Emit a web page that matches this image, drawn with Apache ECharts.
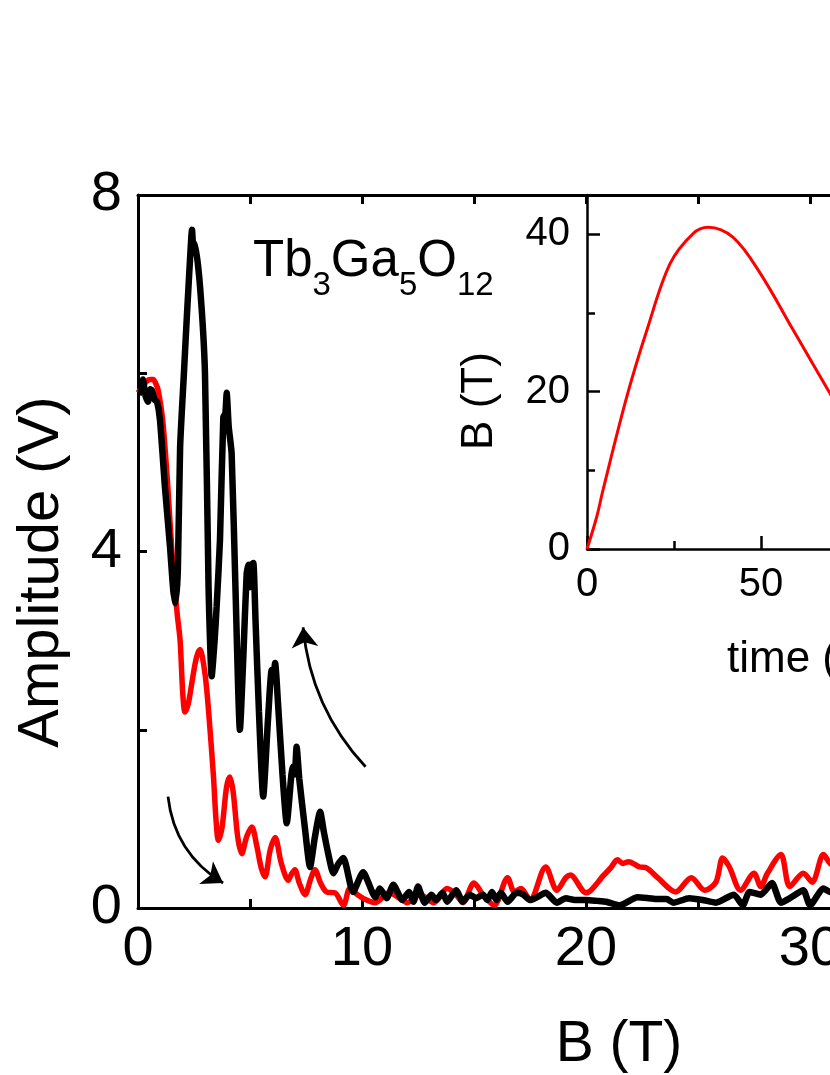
<!DOCTYPE html>
<html>
<head>
<meta charset="utf-8">
<script src="https://cdn.jsdelivr.net/npm/echarts@6/dist/echarts.min.js"></script>
<style>
html,body{margin:0;padding:0;background:#fff;}
#chart{width:830px;height:1075px;}
</style>
</head>
<body>
<div id="chart"></div>
<script>
// Main chart: Amplitude (V) vs B (T)
const redUp = [[0,5.78],[0.2,5.85],[0.39,5.91],[0.55,5.93],[0.68,5.93],[0.8,5.88],[0.9,5.81],[1.1,5.48],[1.33,4.73],[1.56,3.83],[1.75,3.3],[1.88,3.0],[2.0,2.4],[2.1,2.2],[2.25,2.3],[2.4,2.52],[2.6,2.8],[2.77,2.9],[2.92,2.75],[3.07,2.45],[3.36,1.51],[3.48,1.0],[3.59,0.76],[3.75,0.9],[3.95,1.35],[4.1,1.47],[4.25,1.3],[4.45,0.8],[4.63,0.61],[4.85,0.8],[5.08,0.91],[5.3,0.7],[5.5,0.45],[5.67,0.35],[5.9,0.65],[6.12,0.79],[6.4,0.5],[6.71,0.31],[6.85,0.38],[7.0,0.43],[7.2,0.28],[7.46,0.15],[7.7,0.32],[7.9,0.43],[8.15,0.28],[8.42,0.18],[8.8,0.17],[9.17,0.03],[9.46,0.22],[9.8,0.15],[10.2,0.09],[10.6,0.06],[11.2,0.17],[11.8,0.09],[12.0,0.06],[12.6,0.15],[13.2,0.06],[13.8,0.22],[14.2,0.15],[14.5,0.06],[15.0,0.28],[15.4,0.15],[15.9,0.03],[16.5,0.34],[16.8,0.18],[17.1,0.22],[17.5,0.09],[18.2,0.46],[18.7,0.2],[19.1,0.34],[19.3,0.37],[20.0,0.17],[20.8,0.37],[21.1,0.45],[21.4,0.54],[21.65,0.5],[21.9,0.52],[22.4,0.46],[22.7,0.45],[23.2,0.34],[24.0,0.18],[24.7,0.34],[25.3,0.2],[25.8,0.29],[26.1,0.56],[26.4,0.46],[26.9,0.2],[27.5,0.39],[27.8,0.24],[28.1,0.39],[28.7,0.6],[29.1,0.24],[29.7,0.39],[30.1,0.29],[30.6,0.6],[30.9,0.5],[31.5,0.4]];

const blackDown = [[0.12,5.75],[0.22,5.93],[0.33,5.75],[0.45,5.68],[0.55,5.82],[0.62,5.81],[0.75,5.7],[0.85,5.68],[0.98,5.48],[1.2,4.73],[1.43,4.05],[1.58,3.55],[1.68,3.42],[1.78,3.8],[1.88,5.17],[2.05,6.0],[2.19,6.68],[2.35,7.4],[2.41,7.61],[2.48,7.35],[2.54,7.46],[2.77,6.97],[2.99,6.0],[3.15,3.6],[3.29,2.6],[3.42,3.0],[3.51,3.38],[3.66,4.13],[3.81,5.51],[3.9,5.55],[3.96,5.78],[4.05,5.4],[4.18,5.1],[4.35,3.6],[4.55,2.0],[4.7,2.8],[4.85,3.75],[4.93,3.85],[5.0,3.6],[5.1,3.86],[5.15,3.87],[5.25,3.2],[5.4,2.2],[5.59,1.25],[5.8,2.1],[5.97,2.67],[6.05,2.6],[6.12,2.75],[6.25,2.3],[6.45,1.5],[6.64,0.95],[6.85,1.5],[6.93,1.59],[7.0,1.5],[7.08,1.81],[7.2,1.45],[7.45,0.9],[7.68,0.46],[7.9,0.8],[8.13,1.08],[8.3,0.85],[8.5,0.6],[8.72,0.39],[8.95,0.5],[9.17,0.56],[9.6,0.18],[10.05,0.4],[10.6,0.12],[10.8,0.22],[11.1,0.11],[11.4,0.26],[11.8,0.09],[12.1,0.18],[12.3,0.07],[12.5,0.24],[12.8,0.06],[13.1,0.15],[13.3,0.09],[13.6,0.17],[13.8,0.07],[14.2,0.2],[14.5,0.07],[14.8,0.15],[15.1,0.11],[15.4,0.15],[15.6,0.09],[15.8,0.18],[16.0,0.09],[16.2,0.17],[16.5,0.07],[16.9,0.17],[17.2,0.15],[17.5,0.09],[17.8,0.12],[18.2,0.17],[18.7,0.06],[19.1,0.11],[19.5,0.09],[20.0,0.09],[20.5,0.08],[20.9,0.07],[21.5,0.03],[22.3,0.12],[22.8,0.11],[23.2,0.1],[23.6,0.1],[23.9,0.06],[24.6,0.11],[25.2,0.09],[25.8,0.06],[26.6,0.15],[27.0,0.03],[27.3,0.18],[27.8,0.15],[28.3,0.28],[28.7,0.06],[29.1,0.11],[29.7,0.2],[30.0,0.03],[30.6,0.22],[30.9,0.18],[31.5,0.2]];

// Inset: B (T) vs time (ms)
const insetTime = [0, 2.8, 4.6, 11.4, 17.2, 23.9, 30.5, 34.8, 42, 49.7, 59.3, 69.8, 75];
const insetB    = [0, 4.1, 7.5, 19.3, 27.8, 36.3, 40.1, 40.9, 39.6, 35.1, 27.8, 19.8, 16];

// Sweep-direction arrows (data coordinates of tail and head)
const arrowUp   = [[10.16,1.585],[7.37,3.15]];
const arrowDown = [[1.34,1.25],[3.8,0.28]];

const insetYLabels = [0,20,40];
const insetYMinor = [10,30];

const FONT = 'Liberation Sans, Arial, Helvetica, sans-serif';
const chart = echarts.init(document.getElementById('chart'), null, {renderer:'canvas'});

const insetData = insetTime.map((t,i)=>[t, insetB[i]]);

const option = {
  backgroundColor: '#fff',
  animation: false,
  textStyle: {fontFamily: FONT},
  grid: [
    {left:138, top:195, width:896, height:713, containLabel:false, outerBoundsMode:'none'},
    {left:587, top:195, width:522, height:354, containLabel:false, outerBoundsMode:'none'}
  ],
  xAxis: [
    {gridIndex:0, type:'value', position:'bottom', min:0, max:40, interval:10,
     axisLine:{lineStyle:{color:'#000', width:3}},
     axisTick:{inside:true, length:9, lineStyle:{color:'#000', width:3}},
     minorTick:{show:true, splitNumber:2, length:9, lineStyle:{color:'#000', width:3}},
     axisLabel:{fontSize:56, color:'#000', margin:14, fontFamily:FONT, hideOverlap:false},
     splitLine:{show:false}},
    {gridIndex:0, type:'value', position:'top', min:0, max:40, interval:10,
     axisLine:{lineStyle:{color:'#000', width:3}},
     axisTick:{inside:true, length:9, lineStyle:{color:'#000', width:3}},
     minorTick:{show:true, splitNumber:2, length:9, lineStyle:{color:'#000', width:3}},
     axisLabel:{show:false}, splitLine:{show:false}},
    {gridIndex:1, type:'value', position:'bottom', min:0, max:150, interval:50,
     axisLine:{lineStyle:{color:'#000', width:2.5}},
     axisTick:{inside:true, length:13, lineStyle:{color:'#000', width:2.5}},
     minorTick:{show:true, splitNumber:2, length:8, lineStyle:{color:'#000', width:2.5}},
     axisLabel:{fontSize:40, color:'#000', margin:16, fontFamily:FONT, hideOverlap:false},
     splitLine:{show:false}}
  ],
  yAxis: [
    {gridIndex:0, type:'value', position:'left', min:0, max:8, interval:4,
     axisLine:{lineStyle:{color:'#000', width:3}},
     axisTick:{inside:true, length:9, lineStyle:{color:'#000', width:3}},
     minorTick:{show:true, splitNumber:2, length:9, lineStyle:{color:'#000', width:3}},
     axisLabel:{fontSize:56, color:'#000', margin:16, fontFamily:FONT},
     splitLine:{show:false}},
    {gridIndex:1, type:'value', position:'left', min:0, max:45, interval:20,
     axisLine:{lineStyle:{color:'#000', width:2.5}},
     axisTick:{inside:true, length:13, customValues:insetYLabels, lineStyle:{color:'#000', width:2.5}},
     axisLabel:{fontSize:40, color:'#000', margin:17, customValues:insetYLabels, fontFamily:FONT},
     splitLine:{show:false}},
    {gridIndex:1, type:'value', position:'left', offset:0, min:0, max:45, interval:10,
     axisLine:{show:false},
     axisTick:{inside:true, length:8, customValues:insetYMinor, lineStyle:{color:'#000', width:2.5}},
     axisLabel:{show:false}, splitLine:{show:false}}
  ],
  series: [
    {type:'line', xAxisIndex:0, yAxisIndex:0, data:redUp, smooth:0.3, symbol:'none',
     lineStyle:{color:'#ff0000', width:5.5}, z:3},
    {type:'line', xAxisIndex:0, yAxisIndex:0, data:blackDown, smooth:0.2, symbol:'none',
     lineStyle:{color:'#000', width:6.5}, z:4},
    {type:'line', xAxisIndex:2, yAxisIndex:1, data:insetData, smooth:0.35, symbol:'none',
     lineStyle:{color:'#ff0000', width:3}, z:3},
    {type:'lines', coordinateSystem:'cartesian2d', xAxisIndex:0, yAxisIndex:0,
     symbol:['none','arrow'], symbolSize:20, z:5,
     lineStyle:{color:'#000', width:2.8, opacity:1},
     data:[
       {coords:arrowUp, lineStyle:{curveness:0.17}},
       {coords:arrowDown, lineStyle:{curveness:-0.245}}
     ]}
  ],
  graphic: [
    {type:'text', x:42, y:572, rotation:Math.PI/2,
     style:{text:'Amplitude (V)', font:'58px '+FONT, fill:'#000', textAlign:'center', textVerticalAlign:'middle'}},
    {type:'text', x:619, y:1045,
     style:{text:'B (T)', font:'57px '+FONT, fill:'#000', textAlign:'center', textVerticalAlign:'middle'}},
    {type:'text', x:480, y:401, rotation:Math.PI/2,
     style:{text:'B (T)', font:'44px '+FONT, fill:'#000', textAlign:'center', textVerticalAlign:'middle'}},
    {type:'text', x:727, y:660,
     style:{text:'time (ms)', font:'44px '+FONT, fill:'#000', textAlign:'left', textVerticalAlign:'middle'}},
    {type:'text', x:253, y:221,
     style:{text:'{m|Tb}{s|3}{m|Ga}{s|5}{m|O}{s|12}', fill:'#000', textVerticalAlign:'top',
       rich:{
         m:{fontSize:51, fontFamily:FONT, fill:'#000'},
         s:{fontSize:33, fontFamily:FONT, fill:'#000', padding:[48,0,0,0]}
       }}}
  ]
};
chart.setOption(option);
</script>
</body>
</html>
